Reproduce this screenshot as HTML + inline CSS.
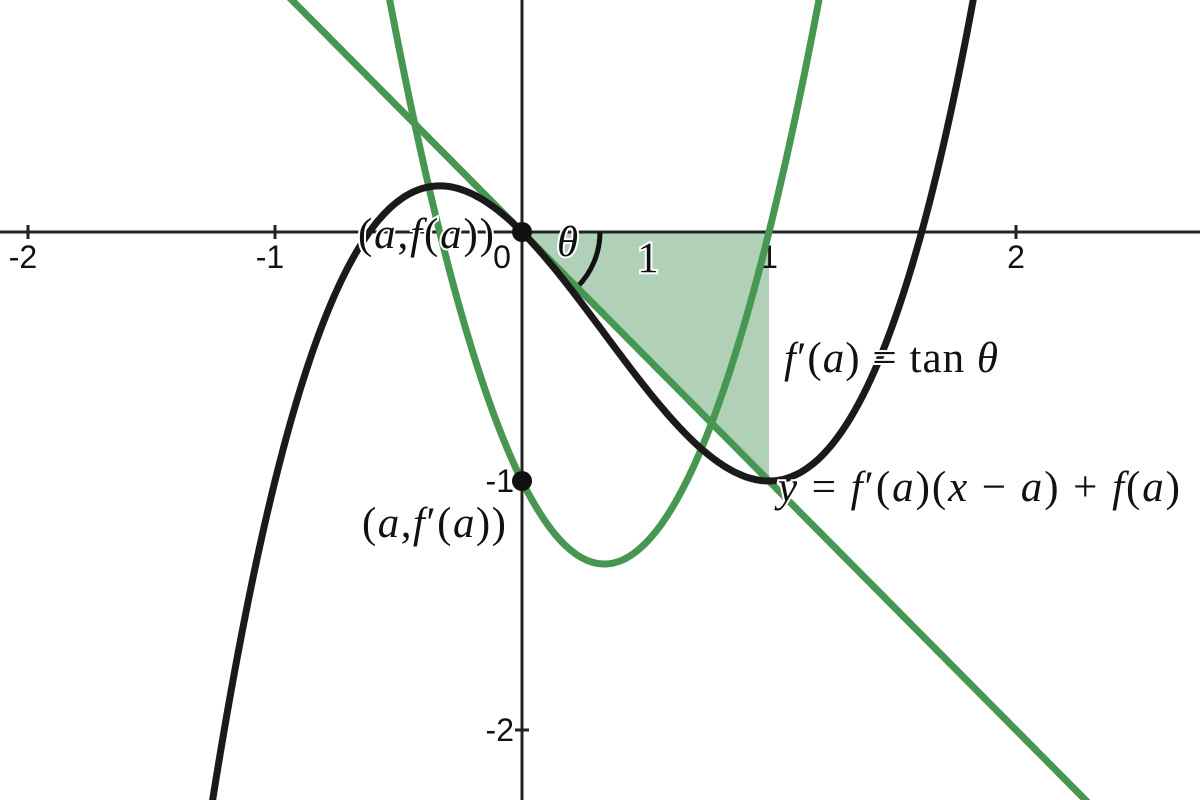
<!DOCTYPE html>
<html><head><meta charset="utf-8"><style>
html,body{margin:0;background:#fff;overflow:hidden;width:1200px;height:800px}
svg{display:block}
.t{font-family:"Liberation Sans",sans-serif;font-size:32px;fill:#111}
.m{font-family:"Liberation Serif",serif;font-size:43px;fill:#111}
.i{font-style:italic}
</style></head><body>
<svg id="c" width="1200" height="800">
<g id="g"></g>
</svg>
<script>
const xTicks=[-2,-1,1,2];
const xTickLabels=["-2","-1","1","2"];
const yTicks=[-1,-2];
const yTickLabels=["-1","-2"];
const cubicCoef=[1,-1,-1,0]; // f(x)=x^3 - x^2 - x
const pointA=[0];
const X0=522,Y0=232,S=247,SY=249;
const sx=x=>X0+x*S, sy=y=>Y0-y*SY;
const f=x=>cubicCoef[0]*x**3+cubicCoef[1]*x**2+cubicCoef[2]*x+cubicCoef[3];
const fp=x=>3*cubicCoef[0]*x**2+2*cubicCoef[1]*x+cubicCoef[2];
const a=pointA[0];
const NS="http://www.w3.org/2000/svg";
const g=document.getElementById('g');
function el(t,at,txt){const e=document.createElementNS(NS,t);for(const k in at)e.setAttribute(k,at[k]);if(txt!=null)e.textContent=txt;g.appendChild(e);return e;}
function curve(fn){let d="";for(let px=0;px<=1200;px+=2){const x=(px-X0)/S;const y=sy(fn(x));d+=(px?"L":"M")+px+","+Math.max(-500,Math.min(1300,y)).toFixed(1);}return d;}
let e=el('path',{d:`M${sx(a)},${sy(f(a))}L${sx(a+1)},${sy(f(a))}L${sx(a+1)},${sy(f(a)+fp(a))}Z`,fill:'#b0d1b7'});


e=el('line',{x1:0,y1:Y0,x2:1200,y2:Y0,stroke:'#222','stroke-width':3});


e=el('line',{x1:X0,y1:0,x2:X0,y2:800,stroke:'#222','stroke-width':3});


xTicks.forEach((v,i)=>{
 e=el('line',{x1:sx(v),y1:Y0-7,x2:sx(v),y2:Y0+7,stroke:'#222','stroke-width':3});
 
 
 e=el('text',{x:sx(v)-(v<0?5:0),y:Y0+36,'text-anchor':'middle',class:'t'},xTickLabels[i]);
 
 
});
e=el('text',{x:X0-20,y:Y0+36,'text-anchor':'middle',class:'t'},"0");


yTicks.forEach((v,i)=>{
 e=el('line',{x1:X0-7,y1:sy(v),x2:X0+7,y2:sy(v),stroke:'#222','stroke-width':3});
 
 
 e=el('text',{x:X0-8,y:sy(v)+11,'text-anchor':'end',class:'t'},yTickLabels[i]);
 
 
});
const r=78;
e=el('path',{d:`M${sx(a)+r},${Y0}A${r},${r} 0 0 1 ${sx(a)+r*Math.cos(Math.atan(-fp(a)))},${Y0+r*Math.sin(Math.atan(-fp(a)))}`,fill:'none',stroke:'#111','stroke-width':5});


e=el('path',{d:curve(fp),fill:'none',stroke:'#479651','stroke-width':7});


e=el('path',{d:curve(x=>fp(a)*(x-a)+f(a)),fill:'none',stroke:'#479651','stroke-width':7});


e=el('path',{d:curve(f),fill:'none',stroke:'#1a1a1a','stroke-width':7});


e=el('circle',{cx:sx(a),cy:sy(f(a)),r:10,fill:'#111'});


e=el('circle',{cx:sx(a),cy:sy(fp(a)),r:10,fill:'#111'});


const labs=[
 ['(<tspan class="i">a</tspan>,<tspan class="i">f</tspan>(<tspan class="i">a</tspan>))',358,248,'label-point-f',136],
 ['(<tspan class="i">a</tspan>,<tspan class="i">f</tspan>\u2032(<tspan class="i">a</tspan>))',362,537,'label-point-fprime',144],
 ['<tspan class="i">\u03b8</tspan>',557,256,'label-theta',0],
 ['<tspan class="i">f</tspan>\u2032(<tspan class="i">a</tspan>) = tan <tspan class="i">\u03b8</tspan>',784,372,'label-slope',214],
 ['<tspan class="i">y</tspan> = <tspan class="i">f</tspan>\u2032(<tspan class="i">a</tspan>)(<tspan class="i">x</tspan> \u2212 <tspan class="i">a</tspan>) + <tspan class="i">f</tspan>(<tspan class="i">a</tspan>)',778,501,'label-tangent-eq',402]];
labs.forEach(l=>{const at={x:l[1],y:l[2],class:'m',stroke:'#fff','stroke-width':4,'paint-order':'stroke'};
 if(l[4]){at.textLength=l[4];at.lengthAdjust='spacing';}
 e=el('text',at);
 e.innerHTML=l[0];
 
 });
e=el('text',{x:648,y:272,'text-anchor':'middle',class:'m',stroke:'#fff','stroke-width':4,'paint-order':'stroke'},"1");


</script>
</body></html>
